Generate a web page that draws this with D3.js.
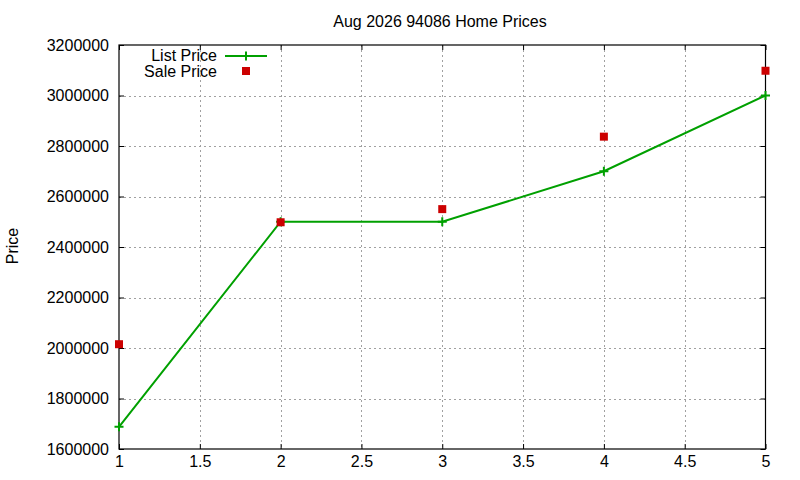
<!DOCTYPE html>
<html><head><meta charset="utf-8">
<script src="https://cdn.jsdelivr.net/npm/d3@7"></script>
<style>body{margin:0;background:#fff}svg{display:block;font-family:"Liberation Sans",Arial,sans-serif}</style>
</head><body><svg id="c" width="800" height="480"></svg>
<script>
const xValues = [1, 2, 3, 4, 5];
const listPrice = [1688000, 2500000, 2500000, 2700000, 3000000];
const salePrice = [2015000, 2498000, 2550000, 2837000, 3098000];
const xTicks = [1, 1.5, 2, 2.5, 3, 3.5, 4, 4.5, 5];
const yTicks = [1600000, 1800000, 2000000, 2200000, 2400000, 2600000, 2800000, 3000000, 3200000];
const title = "Aug 2026 94086 Home Prices";
const yLabel = "Price";
const seriesNames = ["List Price", "Sale Price"];

const svg = d3.select("#c");
const L = 119, R = 765.5, T = 45, B = 449;
const x = d3.scaleLinear().domain([1, 5]).range([L, R]);
const y = d3.scaleLinear().domain([1600000, 3200000]).range([B, T]);
const green = "#00a000", red = "#cc0000", grid = "#a0a0a0";

// grid
const g = svg.append("g");
g.selectAll("line.gx").data(xTicks.slice(1, -1)).join("line")
  .attr("x1", d => Math.round(x(d)) + 0.5).attr("x2", d => Math.round(x(d)) + 0.5)
  .attr("y1", T).attr("y2", B)
  .attr("stroke", grid).attr("stroke-width", 1).attr("stroke-dasharray", "2,3");
g.selectAll("line.gy").data(yTicks.slice(1, -1)).join("line")
  .attr("y1", d => Math.round(y(d)) + 0.5).attr("y2", d => Math.round(y(d)) + 0.5)
  .attr("x1", L).attr("x2", R)
  .attr("stroke", grid).attr("stroke-width", 1).attr("stroke-dasharray", "2,3");

// axes
const tick = 5;
const axB = svg.append("g").attr("transform", `translate(0,${B})`)
  .call(d3.axisBottom(x).tickValues(xTicks).tickSizeInner(-tick).tickSizeOuter(0).tickPadding(10).tickFormat(d3.format("")));
const axT = svg.append("g").attr("transform", `translate(0,${T})`)
  .call(d3.axisTop(x).tickValues(xTicks).tickSizeInner(-tick).tickSizeOuter(0).tickFormat(""));
const axL = svg.append("g").attr("transform", `translate(${L},0)`)
  .call(d3.axisLeft(y).tickValues(yTicks).tickSizeInner(-tick).tickSizeOuter(0).tickPadding(10).tickFormat(d3.format("d")));
const axR = svg.append("g").attr("transform", `translate(${R},0)`)
  .call(d3.axisRight(y).tickValues(yTicks).tickSizeInner(-tick).tickSizeOuter(0).tickFormat(""));
[axB, axT, axL, axR].forEach(a => {
  a.select(".domain").remove();
  a.selectAll(".tick line").attr("stroke", "#000");
  a.selectAll("text").attr("font-size", 16).attr("fill", "#000").attr("font-family", "Liberation Sans, Arial, sans-serif");
});
axB.selectAll("text").attr("dy", "0.71em").attr("y", 7);
svg.append("rect").attr("x", L).attr("y", T).attr("width", R - L).attr("height", B - T)
  .attr("fill", "none").attr("stroke", "#000").attr("stroke-width", 1.2);

// list line
const pts = xValues.map((d, i) => [x(d), y(listPrice[i])]);
svg.append("path").attr("d", d3.line()(pts)).attr("fill", "none").attr("stroke", green).attr("stroke-width", 2);
svg.selectAll("path.plus").data(pts).join("path")
  .attr("d", d => `M${d[0]-4.5},${d[1]}H${d[0]+4.5}M${d[0]},${d[1]-4.5}V${d[1]+4.5}`)
  .attr("stroke", green).attr("stroke-width", 2);

// sale points
svg.selectAll("rect.sale").data(xValues).join("rect")
  .attr("x", (d) => x(d) - 4).attr("y", (d, i) => y(salePrice[i]) - 4)
  .attr("width", 8).attr("height", 8).attr("fill", red);

// title
svg.append("text").attr("x", 440).attr("y", 27).attr("text-anchor", "middle").attr("font-size", 16).text(title);
svg.append("text").attr("transform", "translate(18,246) rotate(-90)").attr("text-anchor", "middle").attr("font-size", 16).text(yLabel);

// legend
svg.append("text").attr("x", 217).attr("y", 61).attr("text-anchor", "end").attr("font-size", 16).text(seriesNames[0]);
svg.append("text").attr("x", 217).attr("y", 77).attr("text-anchor", "end").attr("font-size", 16).text(seriesNames[1]);
svg.append("line").attr("x1", 225).attr("x2", 267).attr("y1", 56).attr("y2", 56).attr("stroke", green).attr("stroke-width", 2);
svg.append("path").attr("d", `M241.5,56H250.5M246,51.5V60.5`).attr("stroke", green).attr("stroke-width", 2);
svg.append("rect").attr("x", 242).attr("y", 67).attr("width", 8).attr("height", 8).attr("fill", red);
</script></body></html>
